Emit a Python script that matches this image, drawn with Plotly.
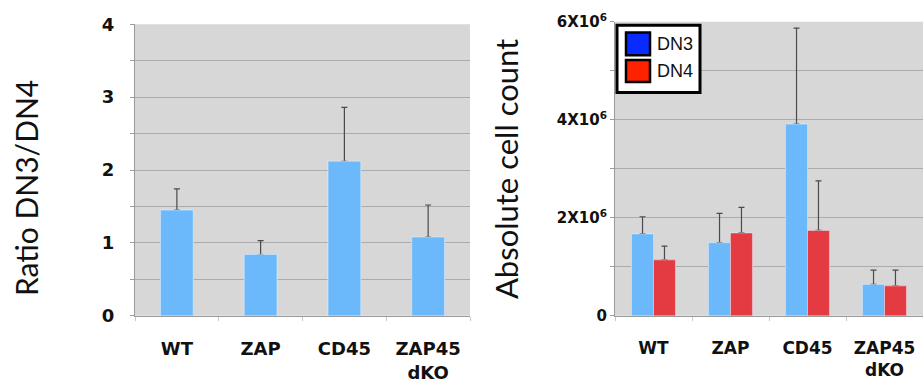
import plotly.graph_objects as go

categories = ["WT", "ZAP", "CD45", "ZAP45<br>dKO"]

ratio_values = [1.45, 0.84, 2.12, 1.08]
ratio_upper = [1.74, 1.03, 2.86, 1.52]

dn3_values = [1.67e6, 1.49e6, 3.91e6, 0.64e6]
dn3_upper = [2.02e6, 2.09e6, 5.87e6, 0.93e6]
dn4_values = [1.14e6, 1.69e6, 1.74e6, 0.61e6]
dn4_upper = [1.42e6, 2.21e6, 2.75e6, 0.93e6]

ratio_ticks = [0, 1, 2, 3, 4]
ratio_ticktext = ["0", "1", "2", "3", "4"]
count_ticks = [0, 2e6, 4e6, 6e6]
count_ticktext = ["0", "2X10<sup>6</sup>", "4X10<sup>6</sup>", "6X10<sup>6</sup>"]

BLUE = "#6bb9fb"
RED = "#e33b41"
BG = "#d7d7d7"
GRID = "#ababab"
ERR = "#4a4a4a"
W, H = 923, 392


def px(x):
    return x / W


def py(y):
    return 1 - y / H


def diff(u, v):
    return [a - b for a, b in zip(u, v)]


def err(u, v):
    return dict(type="data", symmetric=False, array=diff(u, v),
                arrayminus=[0] * len(v), color=ERR, thickness=1.2, width=3)


fig = go.Figure()
# bars with error bars, then the same bars again on top (same offsetgroup)
# so that the error bar's lower cap at the bar top is hidden
for with_err in (True, False):
    fig.add_trace(go.Bar(x=categories, y=ratio_values, marker_color=BLUE,
                         error_y=err(ratio_upper, ratio_values) if with_err else None,
                         width=0.39, offsetgroup="r",
                         xaxis="x", yaxis="y", showlegend=False))
    fig.add_trace(go.Bar(x=categories, y=dn3_values, marker_color=BLUE, name="DN3",
                         error_y=err(dn3_upper, dn3_values) if with_err else None,
                         offsetgroup="dn3",
                         xaxis="x2", yaxis="y2", showlegend=False))
    fig.add_trace(go.Bar(x=categories, y=dn4_values, marker_color=RED, name="DN4",
                         error_y=err(dn4_upper, dn4_values) if with_err else None,
                         offsetgroup="dn4",
                         xaxis="x2", yaxis="y2", showlegend=False))

tickfont = dict(family="DejaVu Sans", size=18, color="#111", weight="bold")
tickfont2 = dict(family="DejaVu Sans", size=17, color="#111", weight="bold")

xcommon = dict(type="category", showgrid=False, showline=True, linecolor="#9a9a9a",
               linewidth=1, ticks="outside", tickson="boundaries", ticklen=4,
               tickcolor="#c8c8c8", zeroline=False, ticklabelstandoff=17)

ycommon = dict(showgrid=True, gridcolor=GRID, gridwidth=1, showline=True,
               linecolor="#9a9a9a", ticks="outside", ticklen=4, tickcolor="#9a9a9a",
               zeroline=False)

fig.update_layout(
    width=W, height=H,
    margin=dict(l=0, r=0, t=0, b=0),
    paper_bgcolor="white",
    plot_bgcolor=BG,
    barmode="group",
    bargap=0.43,
    bargroupgap=0,
    xaxis=dict(domain=[px(135), px(470)], anchor="y", tickfont=tickfont, **xcommon),
    yaxis=dict(domain=[py(322), py(14)], anchor="x", range=[0, 4],
               tickvals=ratio_ticks, ticktext=ratio_ticktext, tickfont=tickfont,
               minor=dict(dtick=0.5, showgrid=True, gridcolor=GRID, gridwidth=1,
                          ticks="outside", ticklen=4, tickcolor="#9a9a9a"),
               ticklabelstandoff=12, **ycommon),
    xaxis2=dict(domain=[px(615), 1.0], anchor="y2", tickfont=tickfont2, **xcommon),
    yaxis2=dict(domain=[py(322), py(11.3)], anchor="x2", range=[0, 6e6],
                tickvals=count_ticks, ticktext=count_ticktext,
                tickfont=dict(family="DejaVu Sans", size=15, color="#111", weight="bold"),
                minor=dict(dtick=1e6, showgrid=True, gridcolor=GRID, gridwidth=1,
                           ticks="outside", ticklen=4, tickcolor="#9a9a9a"),
                ticklabelstandoff=0, **ycommon),
)

title_font = dict(family="Lato", size=30, color="#111")
fig.add_annotation(text="Ratio DN3/DN4", textangle=-90, x=px(26), y=py(187),
                   xref="paper", yref="paper", showarrow=False, font=title_font,
                   xanchor="center", yanchor="middle")
fig.add_annotation(text="Absolute cell count", textangle=-90, x=px(506), y=py(167),
                   xref="paper", yref="paper", showarrow=False,
                   font=dict(family="Lato", size=31, color="#111"),
                   xanchor="center", yanchor="middle")

# custom legend box
legend_items = [("DN3", "#0a2bff", 22.7, 46.7), ("DN4", "#ff2200", 51.7, 75.0)]
fig.add_shape(type="rect", xref="paper", yref="paper", x0=px(617), x1=px(700),
              y0=py(86), y1=py(15), fillcolor="white", line=dict(color="black", width=3))
for label, col, y0, y1 in legend_items:
    fig.add_shape(type="rect", xref="paper", yref="paper", x0=px(626), x1=px(650),
                  y0=py(y1), y1=py(y0), fillcolor=col, line=dict(color="black", width=2.5))
    fig.add_annotation(text=label, x=px(655), y=py((y0 + y1) / 2), xref="paper", yref="paper",
                       showarrow=False, xanchor="left", yanchor="middle",
                       font=dict(family="Liberation Sans", size=18, color="#111"))

fig.write_html("out.html")
